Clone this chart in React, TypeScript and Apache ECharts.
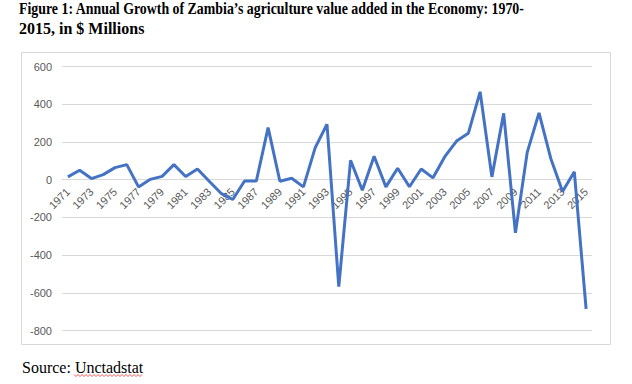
import React, { useEffect, useRef } from "react";
import * as echarts from "echarts";

const years: string[] = [
  "1971","1972","1973","1974","1975","1976","1977","1978","1979","1980",
  "1981","1982","1983","1984","1985","1986","1987","1988","1989","1990",
  "1991","1992","1993","1994","1995","1996","1997","1998","1999","2000",
  "2001","2002","2003","2004","2005","2006","2007","2008","2009","2010",
  "2011","2012","2013","2014","2015",
];

const growth: number[] = [
  15, 50, 6, 27, 64, 80, -38, 2, 18, 80,
  17, 57, -8, -72, -105, -7, -7, 276, -8, 8,
  -38, 170, 294, -567, 103, -56, 124, -38, 61, -37,
  57, 10, 122, 205, 246, 466, 15, 352, -281, 145,
  354, 113, -62, 42, -685,
];

const titleLines: string[] = [
  "Figure 1: Annual Growth of Zambia\u2019s agriculture value added in the Economy: 1970-",
  "2015, in $ Millions",
];
const sourceLabel = "Source: ";
const sourceName = "Unctadstat";

export default function App() {
  const ref = useRef<HTMLDivElement>(null);
  useEffect(() => {
    if (!ref.current) return;
    const chart = echarts.init(ref.current, null, { renderer: "svg" });
    const squiggle: number[][] = [];
    for (let i = 0; i <= 34; i++) {
      squiggle.push([74 + i * 2, i % 2 === 0 ? 374.5 : 376.5]);
    }
    const gridLeft = 62;
    const gridRight = 40;
    const gridTop = 66.5;
    const gridBottom = 53.3;
    const yMin = -800;
    const yMax = 600;
    const plotH = 384 - gridTop - gridBottom;
    const zeroY = gridTop + (yMax / (yMax - yMin)) * plotH;
    chart.setOption({
      animation: false,
      backgroundColor: "#ffffff",
      grid: [
        { left: gridLeft, right: gridRight, top: gridTop, bottom: gridBottom, containLabel: false },
        { left: gridLeft, right: gridRight, top: gridTop, bottom: 384 - zeroY, containLabel: false },
      ],
      xAxis: [
        {
          type: "category",
          gridIndex: 0,
          data: years,
          boundaryGap: true,
          axisLine: { onZero: true, lineStyle: { color: "#d9d9d9", width: 1 } },
          axisTick: { show: false },
          axisLabel: { show: false },
          splitLine: { show: false },
        },
        {
          type: "category",
          gridIndex: 1,
          data: years,
          boundaryGap: true,
          axisLine: { show: false },
          axisTick: { show: false },
          axisLabel: {
            interval: 1,
            rotate: 45,
            margin: 10,
            color: "#595959",
            fontSize: 11,
            fontFamily: "Liberation Sans",
          },
          splitLine: { show: false },
        },
      ],
      yAxis: [
        {
          type: "value",
          gridIndex: 0,
          min: yMin,
          max: yMax,
          interval: 200,
          axisLine: { show: false },
          axisTick: { show: false },
          axisLabel: { color: "#595959", fontSize: 11, fontFamily: "Liberation Sans", margin: 10 },
          splitLine: { lineStyle: { color: "#d9d9d9", width: 1 } },
        },
        {
          type: "value",
          gridIndex: 1,
          show: false,
        },
      ],
      series: [
        {
          type: "line",
          xAxisIndex: 0,
          yAxisIndex: 0,
          data: growth,
          symbol: "none",
          lineStyle: { color: "#4472C4", width: 3 },
          itemStyle: { color: "#4472C4" },
          z: 3,
        },
      ],
      graphic: [
        {
          type: "rect",
          shape: { x: 21.5, y: 52.5, width: 589, height: 292 },
          style: { fill: "none", stroke: "#d9d9d9", lineWidth: 1 },
          silent: true,
          z: -1,
        },
        {
          type: "text",
          x: 19,
          y: 1,
          scaleX: 0.867,
          style: {
            text: titleLines[0],
            font: "bold 16px 'Liberation Serif'",
            fill: "#000000",
          },
        },
        {
          type: "text",
          x: 19,
          y: 20,
          style: {
            text: titleLines[1],
            font: "bold 16px 'Liberation Serif'",
            fill: "#000000",
          },
        },
        {
          type: "text",
          x: 22,
          y: 359,
          style: {
            text: sourceLabel + sourceName,
            font: "16px 'Liberation Serif'",
            fill: "#000000",
          },
        },
        {
          type: "polyline",
          shape: { points: squiggle },
          style: { stroke: "#e03030", lineWidth: 0.8, fill: "none" },
          silent: true,
        },
      ],
    });
    return () => chart.dispose();
  }, []);
  return (
    <div
      ref={ref}
      style={{ position: "fixed", left: 0, top: 0, width: 632, height: 384 }}
    />
  );
}
